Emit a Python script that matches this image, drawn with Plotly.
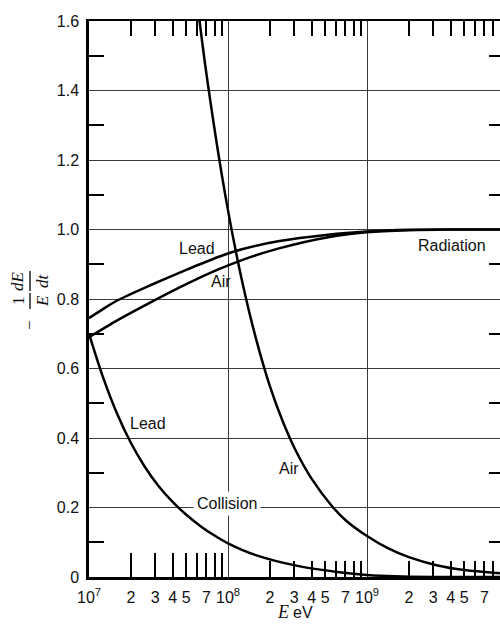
import plotly.graph_objects as go

# ---------------- data ----------------
# Radiation loss, lead
rad_lead_E = [1.0e7, 1.259e7, 1.585e7, 2.818e7, 5.01e7, 8.51e7, 1.259e8, 2.29e8, 5.25e8, 1.0e9, 2.0e9, 3.98e9, 9.06e9]
rad_lead_y = [0.745, 0.771, 0.795, 0.841, 0.884, 0.921, 0.943, 0.966, 0.985, 0.994, 0.999, 1.0, 1.0]
# Radiation loss, air
rad_air_E = [1.0e7, 1.259e7, 1.585e7, 2.818e7, 5.01e7, 8.51e7, 1.259e8, 2.29e8, 5.25e8, 1.0e9, 2.0e9, 3.98e9, 9.06e9]
rad_air_y = [0.690, 0.714, 0.738, 0.792, 0.843, 0.885, 0.912, 0.945, 0.978, 0.992, 0.998, 1.0, 1.0]
# Collision loss, lead
col_lead_E = [1.0e7, 1.259e7, 1.585e7, 1.995e7, 2.512e7, 3.162e7, 3.981e7, 5.012e7, 6.31e7, 7.943e7,
              1.0e8, 1.585e8, 3.162e8, 6.31e8, 1.0e9, 1.585e9, 3.0e9, 9.06e9]
col_lead_y = [0.700, 0.576, 0.472, 0.387, 0.318, 0.262, 0.217, 0.179, 0.147, 0.120,
              0.097, 0.063, 0.032, 0.014, 0.006, 0.002, 0.0, 0.0]
# Collision loss, air
col_air_E = [5.623e7, 6.31e7, 7.943e7, 1.0e8, 1.259e8, 1.585e8, 1.995e8, 2.512e8, 3.162e8, 3.981e8,
             5.623e8, 7.079e8, 1.0e9, 1.413e9, 2.0e9, 3.162e9, 5.012e9, 9.06e9]
col_air_y = [1.78, 1.585, 1.297, 1.055, 0.854, 0.688, 0.551, 0.442, 0.354, 0.284,
             0.203, 0.162, 0.118, 0.083, 0.057, 0.034, 0.020, 0.011]

# axis ticks / labels
y_major = [0, 0.2, 0.4, 0.6, 0.8, 1.0, 1.2, 1.4, 1.6]
y_major_text = ["0", "0.2", "0.4", "0.6", "0.8", "1.0", "1.2", "1.4", "1.6"]
y_minor = [0.1, 0.3, 0.5, 0.7, 0.9, 1.1, 1.3, 1.5]
x_label_vals = [1e7, 2e7, 3e7, 4e7, 5e7, 7e7,
                1e8, 2e8, 3e8, 4e8, 5e8, 7e8,
                1e9, 2e9, 3e9, 4e9, 5e9, 7e9]
x_label_text = ["10<sup>7</sup>", "2", "3", "4", "5", "7",
                "10<sup>8</sup>", "2", "3", "4", "5", "7",
                "10<sup>9</sup>", "2", "3", "4", "5", "7"]
x_grid_vals = [1e8, 1e9]
mult = [2, 3, 4, 5, 6, 7, 8, 9]
x_minor_1 = [m * 1e7 for m in mult]
x_minor_23 = [m * 1e8 for m in mult] + [m * 1e9 for m in mult]

# ---------------- layout geometry ----------------
W, H = 500, 624
ML, MR, MT, MB = 89, 0, 21, 47
XMIN = 7.0
XMAX = 7.0 + (W - ML - MR) / 139.0
YMAX = 1.6

def px2paper_x(px):
    return (px - ML) / (W - ML - MR)

def py2paper_y(py):
    return (H - MB - py) / (H - MB - MT)

SANS = "Liberation Sans, Arial, sans-serif"
SERIF = "Liberation Serif, DejaVu Serif, serif"
GRID = "#3a3a3a"

fig = go.Figure()

curve = dict(color="black", width=2.5, shape="spline", smoothing=0.8)
for E, y in [(rad_lead_E, rad_lead_y), (rad_air_E, rad_air_y),
             (col_lead_E, col_lead_y), (col_air_E, col_air_y)]:
    fig.add_trace(go.Scatter(x=E, y=y, mode="lines", line=curve,
                             hoverinfo="skip", showlegend=False))

# invisible traces so that the overlay axes are drawn
for xa, ya in [("x2", "y"), ("x3", "y"), ("x4", "y"), ("x5", "y"), ("x", "y2")]:
    fig.add_trace(go.Scatter(x=[1e8], y=[0.5], xaxis=xa, yaxis=ya, mode="markers",
                             marker=dict(opacity=0), hoverinfo="skip", showlegend=False))

tickfont = dict(family=SANS, size=16, color="#111")
common_x = dict(type="log", range=[XMIN, XMAX], fixedrange=True, zeroline=False)

fig.update_layout(
    width=W, height=H,
    margin=dict(l=ML, r=MR, t=MT, b=MB, pad=0),
    paper_bgcolor="white", plot_bgcolor="white",
    showlegend=False,
    xaxis=dict(**common_x, tickvals=x_label_vals, ticktext=x_label_text, ticks="",
               showgrid=False, showline=True, linecolor="black", linewidth=2.5,
               tickfont=tickfont, ticklabelstandoff=4),
    xaxis2=dict(**common_x, overlaying="x", anchor="y", side="bottom",
                tickvals=x_minor_1, ticks="inside", ticklen=24, tickwidth=1.5,
                tickcolor="black", showticklabels=False, showgrid=False, showline=False),
    xaxis3=dict(**common_x, overlaying="x", anchor="y", side="bottom",
                tickvals=x_minor_23, ticks="inside", ticklen=16, tickwidth=1.5,
                tickcolor="black", showticklabels=False, showgrid=False, showline=False),
    xaxis4=dict(**common_x, overlaying="x", anchor="y", side="top",
                tickvals=x_minor_1 + x_minor_23, ticks="inside", ticklen=15,
                tickwidth=1.5, tickcolor="black", showticklabels=False,
                showgrid=False, showline=True, linecolor="black", linewidth=2),
    xaxis5=dict(**common_x, overlaying="x", anchor="y", side="bottom",
                tickvals=x_grid_vals, ticks="", showticklabels=False,
                showgrid=True, gridcolor=GRID, gridwidth=1.3, showline=False),
    yaxis=dict(range=[0, YMAX], fixedrange=True, zeroline=False,
               tickvals=y_major, ticktext=y_major_text, ticks="",
               showgrid=True, gridcolor=GRID, gridwidth=1.3,
               showline=True, linecolor="black", linewidth=2.5,
               minor=dict(tickvals=y_minor, ticks="inside", ticklen=15, tickwidth=1.5,
                          tickcolor="black", showgrid=False),
               tickfont=dict(family=SANS, size=16, color="#111"), ticklabelstandoff=4),
    yaxis2=dict(range=[0, YMAX], fixedrange=True, zeroline=False, overlaying="y",
                anchor="x", side="right", tickvals=y_minor, ticks="inside", ticklen=11,
                tickwidth=1.5, tickcolor="black", showticklabels=False,
                showgrid=False, showline=False),
)

lab = dict(family=SANS, size=16, color="#111")
labels = [
    ("Lead", 7.777, 0.945, False),
    ("Air", 7.950, 0.849, False),
    ("Radiation", 9.612, 0.953, False),
    ("Lead", 7.424, 0.442, False),
    ("Collision", 7.993, 0.212, True),
    ("Air", 8.439, 0.311, False),
]
for text, lx, ly, bg in labels:
    fig.add_annotation(x=lx, y=ly, xref="x", yref="y", text=text, showarrow=False,
                       font=lab, xanchor="center", yanchor="middle",
                       bgcolor="white" if bg else None, borderpad=3)

# y-axis title  -(1/E)(dE/dt), built from rotated pieces
ser = dict(family=SERIF, size=17, color="#111")
ytitle = [
    ("\u2212", 30, 325),
    ("1", 18, 301),
    ("<i>E</i>", 42, 301),
    ("<i>dE</i>", 17, 281),
    ("<i>dt</i>", 42, 281),
]
for text, px, py in ytitle:
    fig.add_annotation(x=px2paper_x(px), y=py2paper_y(py), xref="paper", yref="paper",
                       text=text, showarrow=False, textangle=-90, font=ser,
                       xanchor="center", yanchor="middle")
for y0, y1 in [(293, 309), (271, 291)]:
    fig.add_shape(type="line", xref="paper", yref="paper",
                  x0=px2paper_x(30), x1=px2paper_x(30),
                  y0=py2paper_y(y1), y1=py2paper_y(y0),
                  line=dict(color="#111", width=1.4))

# x-axis title  E eV
fig.add_annotation(x=px2paper_x(283), y=py2paper_y(612), xref="paper", yref="paper",
                   text="<i>E</i>", showarrow=False, font=dict(family=SERIF, size=18, color="#111"),
                   xanchor="center", yanchor="middle")
fig.add_annotation(x=px2paper_x(303), y=py2paper_y(612), xref="paper", yref="paper",
                   text="eV", showarrow=False, font=dict(family=SANS, size=16, color="#111"),
                   xanchor="center", yanchor="middle")

fig.write_html("out.html", config={"displayModeBar": False},
               post_script="document.body.style.margin='0px';document.body.style.overflow='hidden';")
